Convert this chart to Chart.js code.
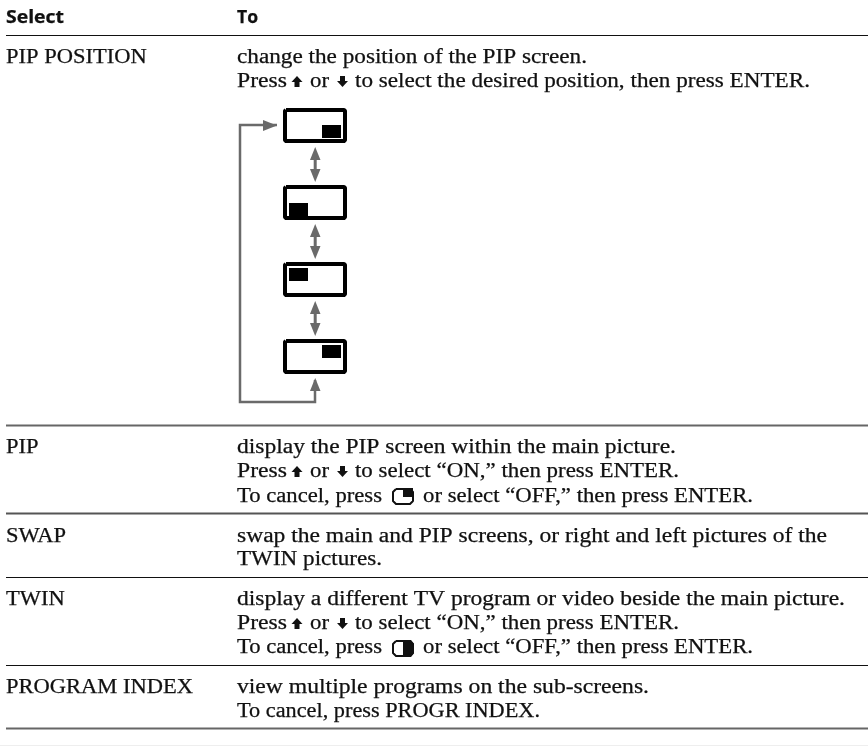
<!DOCTYPE html>
<html>
<head>
<meta charset="utf-8">
<script src="https://cdn.jsdelivr.net/npm/chart.js@4"></script>
<style>
  html, body { margin: 0; padding: 0; background: #fff; }
  canvas { display: block; }
</style>
</head>
<body>
<canvas id="tabla" width="868" height="746"></canvas>
<script>
// Table text
const headers = ["Select", "To"];
const headerX = [6, 237];
const headerEnd = [64, 258];
const headerY = 23;

const selectLabels = ["PIP POSITION", "PIP", "SWAP", "TWIN", "PROGRAM INDEX"];
const selectY = [63, 453, 542, 605, 692.5];

const toLines = [
    "change the position of the PIP screen.",
    "Press", "or", "to select the desired position, then press ENTER.",
    "display the PIP screen within the main picture.",
    "Press", "or", "to select “ON,” then press ENTER.",
    "To cancel, press", "or select “OFF,” then press ENTER.",
    "swap the main and PIP screens, or right and left pictures of the",
    "TWIN pictures.",
    "display a different TV program or video beside the main picture.",
    "Press", "or", "to select “ON,” then press ENTER.",
    "To cancel, press", "or select “OFF,” then press ENTER.",
    "view multiple programs on the sub-screens.",
    "To cancel, press PROGR INDEX."
];
const toX = [237, 237, 310, 355, 237, 237, 310, 355, 237, 423, 237, 237, 237, 237, 310, 355, 237, 423, 237, 237];
const toEnd = [587, 287, 329, 810, 676, 287, 329, 679, 382, 753, 827, 382, 845, 287, 329, 679, 382, 753, 649, 540];
const toY = [63, 87, 87, 87, 453, 477, 477, 477, 502, 502, 542, 565, 605, 629, 629, 629, 653, 653, 692.5, 717];

// Rules between rows
const ruleY = [35.5, 425.5, 513.5, 577.5, 665.5, 728.5];
const ruleWidth = [1, 2, 2, 1, 1, 2];
const ruleColor = ["#111", "#666", "#555", "#111", "#111", "#666"];

// PIP position diagram
const screenTop = [110, 187, 264, 341];
const insetLeft = [322, 289, 289, 322];
const insetTop = [125, 203, 268, 345];
const doubleArrowTop = [147, 224, 301];
const loopX = [277, 240, 240, 315, 315];
const loopY = [125, 125, 402, 402, 380];

// Small arrows and remote icons inside the text
const upArrowX = [297, 297, 297];
const downArrowX = [342.5, 342.5, 342.5];
const arrowTop = [76, 466, 618];
const iconX = [392, 392];
const iconTop = [488, 640];

function poligono(puntos, color) {
    return {
        data: puntos.map(([x, y]) => ({ x, y })).concat({ x: puntos[0][0], y: puntos[0][1] }),
        showLine: true, fill: "shape", backgroundColor: color, borderColor: color,
        borderWidth: 0, pointRadius: 0
    };
}

function linea(xs, ys, color, ancho, union) {
    return {
        data: xs.map((x, i) => ({ x, y: ys[i] })),
        showLine: true, fill: false, borderColor: color, borderWidth: ancho,
        borderJoinStyle: union || "miter", pointRadius: 0
    };
}

function rect(x0, y0, x1, y1) {
    return [[x0, y0], [x1, y0], [x1, y1], [x0, y1]];
}

// Outline with cut corners, the stroke rounds them off
function marco(x0, y0, x1, y1, c, color, ancho) {
    return linea(
        [x0 + c, x1 - c, x1, x1, x1 - c, x0 + c, x0, x0, x0 + c],
        [y0, y0, y0 + c, y1 - c, y1, y1, y1 - c, y0 + c, y0],
        color, ancho, "round"
    );
}

const GRIS = "#6a6a6a";
const NEGRO = "#111";
const datasets = [];

ruleY.forEach((y, i) => datasets.push(linea([6, 868], [y, y], ruleColor[i], ruleWidth[i])));
datasets.push(linea([0, 868], [745.5, 745.5], "#eeeeee", 1));

screenTop.forEach((y, i) => {
    datasets.push(marco(285, y, 345, y + 31, 1, "#000", 4));
    datasets.push(poligono(rect(insetLeft[i], insetTop[i], insetLeft[i] + 19, insetTop[i] + 13), "#000"));
});

// Loop line and its two heads
datasets.push(linea(loopX, loopY, GRIS, 2.5));
datasets.push(poligono([[263, 120], [277, 125.5], [263, 131]], GRIS));
datasets.push(poligono([[310, 391], [315.2, 378], [320.5, 391]], GRIS));

doubleArrowTop.forEach(y => {
    datasets.push(linea([315.2, 315.2], [y + 10, y + 26], GRIS, 3));
    datasets.push(poligono([[310, y + 13], [315.2, y], [320.5, y + 13]], GRIS));
    datasets.push(poligono([[310, y + 22], [315.2, y + 35], [320.5, y + 22]], GRIS));
});

arrowTop.forEach((y, i) => {
    const u = upArrowX[i], d = downArrowX[i];
    datasets.push(poligono([[u - 5.5, y + 6], [u, y], [u + 5.5, y + 6]], NEGRO));
    datasets.push(poligono(rect(u - 2.5, y + 5, u + 2.5, y + 11), NEGRO));
    datasets.push(poligono([[d - 5.5, y + 5], [d, y + 11], [d + 5.5, y + 5]], NEGRO));
    datasets.push(poligono(rect(d - 2.5, y, d + 2.5, y + 6), NEGRO));
});

// PIP icon: black corner, TWIN icon: black half
datasets.push(marco(iconX[0] + 1, iconTop[0] + 1, iconX[0] + 21, iconTop[0] + 16, 3, NEGRO, 2));
datasets.push(poligono(rect(iconX[0] + 11, iconTop[0], iconX[0] + 21, iconTop[0] + 9), NEGRO));
datasets.push(marco(iconX[1] + 1, iconTop[1] + 1, iconX[1] + 21, iconTop[1] + 16, 3, NEGRO, 2));
datasets.push(poligono([[iconX[1] + 11, iconTop[1]], [iconX[1] + 19, iconTop[1]], [iconX[1] + 22, iconTop[1] + 4], [iconX[1] + 22, iconTop[1] + 13], [iconX[1] + 19, iconTop[1] + 17], [iconX[1] + 11, iconTop[1] + 17]], NEGRO));

// Chart.js only takes care of scales here, the text goes in a small plugin
const SERIF = '20px "Liberation Serif"';
const ANCHO_ETIQUETA = 1.125;

function escribir(chart, texto, x, y, fuente, escala, fin) {
    const { ctx, scales } = chart;
    ctx.save();
    ctx.font = fuente;
    const px = scales.x.getPixelForValue(x);
    if (fin !== undefined) escala = (scales.x.getPixelForValue(fin) - px) / ctx.measureText(texto).width;
    ctx.translate(px, scales.y.getPixelForValue(y));
    ctx.scale(escala, 1);
    ctx.fillStyle = NEGRO;
    ctx.strokeStyle = NEGRO;
    ctx.lineWidth = 0.25;
    ctx.textBaseline = "alphabetic";
    ctx.fillText(texto, 0, 0);
    ctx.strokeText(texto, 0, 0);
    ctx.restore();
}

const textoTabla = {
    id: "textoTabla",
    afterDraw(chart) {
        headers.forEach((h, i) => escribir(chart, h, headerX[i], headerY, 'bold 18px "Open Sans"', 1, headerEnd[i]));
        selectLabels.forEach((s, i) => escribir(chart, s, 6, selectY[i], SERIF, ANCHO_ETIQUETA));
        toLines.forEach((t, i) => escribir(chart, t, toX[i], toY[i], SERIF, 1, toEnd[i]));
    }
};

new Chart(document.getElementById("tabla").getContext("2d"), {
    type: "scatter",
    data: { datasets },
    plugins: [textoTabla],
    options: {
        responsive: false,
        animation: false,
        layout: { padding: 0 },
        plugins: { legend: { display: false }, tooltip: { enabled: false } },
        scales: {
            x: { type: "linear", display: false, min: 0, max: 868 },
            y: { type: "linear", display: false, min: 0, max: 746, reverse: true }
        }
    }
});
</script>
</body>
</html>
